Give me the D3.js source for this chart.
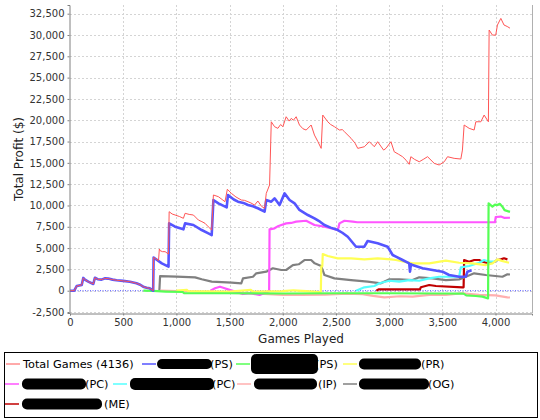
<!DOCTYPE html>
<html><head><meta charset="utf-8">
<script src="https://cdn.jsdelivr.net/npm/d3@7"></script>
<style>body{margin:0;background:#fff}svg{display:block}text{font-family:"DejaVu Sans",sans-serif}</style>
</head><body><svg id="c" width="540" height="420"></svg>
<script>
// ---- data ----
const seriesNames = ["Total Games (4136)", "(PS)", "(PS)", "(PR)", "(PC)", "(PC)", "(IP)", "(OG)", "(ME)"];
const seriesColors = ["#FF5555", "#5555FF", "#55FF55", "#FFFF55", "#FF55FF", "#55FFFF", "#FFAFAF", "#808080", "#C00000"];
const xTicks = [0, 500, 1000, 1500, 2000, 2500, 3000, 3500, 4000];
const yTicks = [-2500, 0, 2500, 5000, 7500, 10000, 12500, 15000, 17500, 20000, 22500, 25000, 27500, 30000, 32500];

const totalGames = [0,40,63,110,125,140,172,219,234,260,297,330,360,400,438,500,563,625,660,688,720,750,782,786,832,840,847,870,894,926,932,960,988,1030,1066,1082,1120,1160,1207,1240,1270,1300,1332,1348,1395,1430,1457,1479,1517,1560,1610,1640,1673,1700,1735,1766,1800,1829,1845,1876,1892,1923,1954,1980,2001,2032,2060,2080,2100,2126,2157,2190,2220,2267,2298,2330,2361,2376,2423,2450,2486,2533,2560,2580,2642,2680,2705,2767,2814,2861,2892,2948,2970,3017,3048,3090,3126,3160,3189,3204,3240,3283,3320,3361,3424,3470,3518,3549,3611,3674,3689,3705,3752,3799,3815,3862,3893,3933,3940,3971,4002,4018,4050,4080,4110,4136];
const totalProfit = [0,0,550,670,1500,1300,1060,790,1520,1350,1300,1450,1420,1300,1230,1150,1060,870,700,470,350,280,0,3900,3520,4900,4700,4580,4580,4300,9270,9000,8880,8700,8490,9080,8950,8880,8290,8100,7900,7500,7120,11230,11030,10700,10440,11900,11420,11000,10640,10600,10440,10300,10050,10520,9900,9670,11420,12400,19820,19240,19050,19500,19240,20410,19900,20220,20000,20410,19440,19000,18850,19440,18260,17500,16700,20610,19820,19500,19240,18850,18900,18650,17880,17300,16700,16890,17480,16890,17480,16500,16700,17480,16300,16000,15720,15300,14830,15720,15400,15130,15400,15720,14940,14750,15130,15720,15530,15450,16500,19440,19050,18850,19820,19820,20610,19820,30580,29990,29990,31170,31950,31170,31000,30800];

const ps1Games = [0,40,63,110,125,140,172,219,234,260,297,330,360,400,438,500,563,625,660,688,720,750,782,786,863,926,932,988,1066,1082,1160,1238,1301,1332,1348,1395,1473,1485,1540,1579,1630,1673,1720,1766,1829,1845,1892,1923,1970,2017,2064,2111,2157,2236,2298,2350,2392,2450,2517,2560,2611,2689,2767,2798,2892,2986,3033,3064,3126,3189,3196,3205,3220,3314,3408,3502,3564,3658,3721,3736,3775];
const ps1Profit = [0,0,550,670,1500,1300,1060,790,1520,1350,1300,1450,1420,1300,1230,1150,1060,870,700,470,350,280,0,3900,3210,2820,7900,7510,7200,7900,7710,7120,6730,6530,10640,10250,9780,11230,10700,10440,10300,10050,9900,9670,9270,10640,10440,10840,10050,11420,10640,10250,9470,8880,8490,8100,7700,7400,7120,6800,6330,5160,5160,5830,5560,5160,4190,3990,3600,3210,2230,3100,3010,2630,2430,2230,1840,1640,1640,2230,2400];

const ps2Games = [690,780,900,1060,1070,1500,2000,2500,3000,3500,3700,3725,3815,3877,3930,3935,3971,3995,4018,4040,4065,4085,4136];
const ps2Profit = [0,-30,-100,-150,-280,-300,-330,-300,-300,-330,-350,-550,-620,-700,-900,10250,9860,10100,10050,10200,9860,9450,9250];

const prGames = [1000,1100,1110,1500,1700,1720,2000,2100,2300,2358,2362,2372,2376,2423,2517,2642,2767,2892,3017,3064,3220,3377,3533,3658,3783,3908,3971,4018,4060,4127];
const prProfit = [0,100,-50,-100,100,-100,-50,50,-100,-150,2860,2860,4300,4070,3800,3800,3680,3800,3680,3600,3210,3210,3520,3280,3210,3010,3210,3680,3500,3280];

const pc1Games = [1320,1363,1410,1440,1500,1625,1700,1782,1860,1872,1876,1923,1960,2032,2080,2126,2220,2298,2392,2517,2533,2580,2658,2700,3995,4002,4050,4080,4136];
const pc1Profit = [0,280,470,350,100,-390,-300,-500,-110,-50,7200,7320,7600,7900,7950,8100,8210,7710,7510,7120,7900,8210,8100,8030,8030,8650,8700,8550,8560];

const pc2Games = [2689,2767,2861,2908,3002,3095,3189,3283,3377,3470,3564,3658,3674,3752,3846,3893,3940,3987,4018];
const pc2Profit = [0,400,550,870,1170,1060,1250,1170,1450,1640,1640,1640,2740,2900,3280,3600,3400,3400,3600];

const ipGames = [850,1000,1300,1500,1688,2001,2173,2400,2600,2750,2850,2955,3100,3220,3377,3533,3689,3846,4000,4112,4136];
const ipProfit = [0,-50,-150,-250,-300,-500,-500,-450,-350,-400,-600,-780,-650,-700,-500,-500,-300,-500,-550,-780,-800];

const ogGames = [840,847,1000,1176,1238,1332,1520,1610,1626,1720,1751,1845,1907,1986,2032,2095,2150,2204,2267,2300,2361,2392,2486,2642,2798,2923,3002,3095,3220,3283,3408,3533,3658,3721,3799,3908,4065,4112,4136];
const ogProfit = [0,1720,1650,1570,1340,1060,940,870,1450,1640,2040,2230,2630,2430,2430,3010,3100,3600,3600,3210,2900,1840,1450,1250,1060,870,1330,1330,1250,1570,1450,1250,1330,1640,2040,1840,1640,1920,1900];

const meGames = [2880,2900,3290,3298,3377,3440,3689,3700,3705,3752,3800,3846,3880,3940,3990,4018,4050,4080,4112];
const meProfit = [0,160,160,400,670,550,400,400,3600,3400,3600,3600,3400,3210,3400,3600,3680,3800,3680];

const seriesGames = [totalGames, ps1Games, ps2Games, prGames, pc1Games, pc2Games, ipGames, ogGames, meGames];
const seriesProfit = [totalProfit, ps1Profit, ps2Profit, prProfit, pc1Profit, pc2Profit, ipProfit, ogProfit, meProfit];

// ---- chart ----
const svg = d3.select("#c");
const L = 70, R = 532, T = 5, B = 313;
const x = d3.scaleLinear().domain([0, 4343]).range([L, R]);
const y = d3.scaleLinear().domain([-2616, 33520]).range([B, T]);
const fmt = v => d3.format(",")(v).replace("\u2212", "-");

svg.append("rect").attr("width", 540).attr("height", 420).attr("fill", "#fff");
svg.append("rect").attr("x", L).attr("y", T).attr("width", R - L).attr("height", B - T).attr("fill", "#fff");

const grid = svg.append("g").attr("stroke", "#d4d4d4").attr("stroke-width", 1).attr("stroke-dasharray", "2,2");
xTicks.filter(d => d > 0).forEach(d => grid.append("line").attr("x1", Math.round(x(d)) + 0.5).attr("x2", Math.round(x(d)) + 0.5).attr("y1", T).attr("y2", B));
yTicks.forEach(d => grid.append("line").attr("y1", Math.round(y(d)) + 0.5).attr("y2", Math.round(y(d)) + 0.5).attr("x1", L).attr("x2", R));

// zero marker
svg.append("line").attr("x1", L).attr("x2", R).attr("y1", y(0)).attr("y2", y(0))
  .attr("stroke", "#5555FF").attr("stroke-width", 1).attr("stroke-dasharray", "1,1.5");

// right outline
svg.append("line").attr("x1", R + 0.5).attr("x2", R + 0.5).attr("y1", T).attr("y2", B).attr("stroke", "#b0b0b0");

const line = d3.line().x(d => x(d[0])).y(d => y(d[1]));
const widths = [1, 2.6, 2.2, 2.2, 2.2, 2.2, 2.2, 2.2, 2.2];
for (let i = seriesNames.length - 1; i >= 0; i--) {
  const pts = seriesGames[i].map((g, k) => [g, seriesProfit[i][k]]);
  svg.append("path").attr("d", line(pts)).attr("fill", "none")
    .attr("stroke", seriesColors[i]).attr("stroke-width", widths[i]).attr("stroke-linejoin", "round");
}

// axes
const xa = svg.append("g").attr("transform", `translate(0,${B + 0.5})`)
  .call(d3.axisBottom(x).tickValues(xTicks).tickSize(2).tickPadding(3).tickFormat(fmt));
const ya = svg.append("g").attr("transform", `translate(${L - 0.5},0)`)
  .call(d3.axisLeft(y).tickValues(yTicks).tickSize(2).tickPadding(3).tickFormat(fmt));
[xa, ya].forEach(a => {
  a.select(".domain").attr("stroke", "#808080");
  a.selectAll(".tick line").attr("stroke", "#808080");
  a.selectAll("text").attr("font-size", 10).attr("fill", "#333").attr("font-family", "DejaVu Sans");
});

svg.append("text").attr("x", (L + R) / 2).attr("y", 343).attr("text-anchor", "middle")
  .attr("font-size", 12).attr("fill", "#222").text("Games Played");
svg.append("text").attr("transform", `translate(23,${(T + B) / 2}) rotate(-90)`).attr("text-anchor", "middle")
  .attr("font-size", 12).attr("fill", "#222").text("Total Profit ($)");

// legend
svg.append("rect").attr("x", 4.5).attr("y", 352.5).attr("width", 533).attr("height", 65)
  .attr("fill", "#fff").attr("stroke", "#000").attr("stroke-width", 1);
const items = [
  {lx: 6, row: 0, tx: 23, blob: null},
  {lx: 142, row: 0, tx: 210, blob: [157, 212, 8]},
  {lx: 236, row: 0, tx: 315, blob: [251, 318, 18]},
  {lx: 343, row: 0, tx: 421, blob: [359, 421, 9]},
  {lx: 5, row: 1, tx: 85, blob: [22, 86, 9]},
  {lx: 113, row: 1, tx: 212, blob: [130, 214, 10]},
  {lx: 237, row: 1, tx: 318, blob: [254, 317, 9]},
  {lx: 343, row: 1, tx: 428, blob: [359, 429, 9]},
  {lx: 5, row: 2, tx: 104, blob: [22, 102, 9]},
];
const rowY = [364, 384, 404];
items.forEach((it, i) => {
  const cy = rowY[it.row];
  svg.append("line").attr("x1", it.lx).attr("x2", it.lx + 14).attr("y1", cy).attr("y2", cy)
    .attr("stroke", seriesColors[i]).attr("stroke-width", i === 0 ? 1 : 1.5);
  svg.append("text").attr("x", it.tx).attr("y", cy + 4.2).attr("font-size", 11.3).attr("fill", "#000").text(seriesNames[i]);
  if (it.blob) {
    const [a, b, h] = it.blob;
    svg.append("rect").attr("x", a).attr("y", cy - h / 2 - 1).attr("width", b - a).attr("height", h + 2)
      .attr("rx", 5).attr("fill", "#000");
  }
});
</script></body></html>
